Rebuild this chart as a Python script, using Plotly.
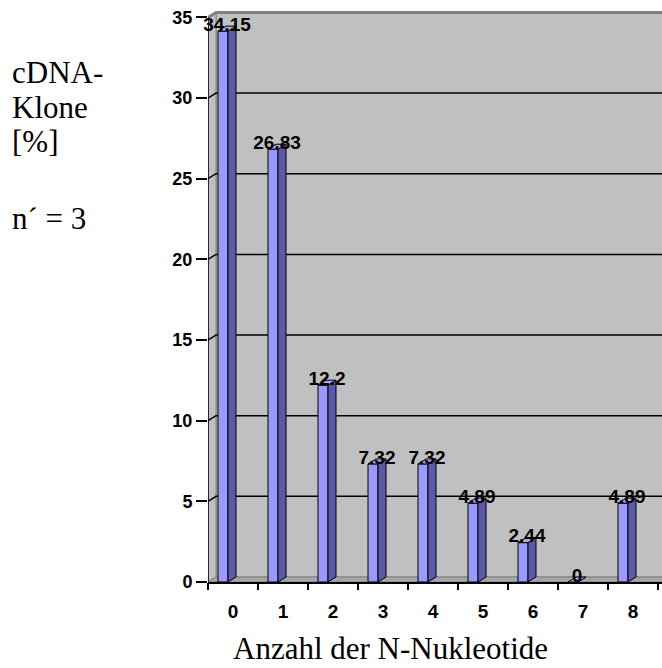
import plotly.graph_objects as go

# ---- data ----
categories = ["0", "1", "2", "3", "4", "5", "6", "7", "8"]
values = [34.15, 26.83, 12.2, 7.32, 7.32, 4.89, 2.44, 0, 4.89]
value_labels = ["34.15", "26.83", "12.2", "7.32", "7.32", "4.89", "2.44", "0", "4.89"]
y_ticks = [0, 5, 10, 15, 20, 25, 30, 35]
left_lines = ["cDNA-", "Klone", "[%]", "n´ = 3"]
x_title = "Anzahl der N-Nukleotide"

# ---- geometry (pseudo-3D, in data units) ----
W, H = 662, 668
ML, MT, MB = 208, 10, 86
PX_X = 50.0                      # pixels per category
X0 = -0.5
XMAX = X0 + (W - ML) / PX_X
PLOT_H = H - MT - MB
YTOP = 35.46
PX_Y = PLOT_H / YTOP
DX = 8 / PX_X                    # depth offset x
DY = 5 / PX_Y                    # depth offset y
BAR_OFF = 10 / PX_X
BAR_W = 10 / PX_X
BDX = 8 / PX_X
YMAX = max(y_ticks)
XEND = len(categories) - 0.5

fig = go.Figure()


def poly(xs, ys, fill, line_color="black", lw=1):
    fig.add_trace(go.Scatter(
        x=xs + [xs[0]], y=ys + [ys[0]], mode="lines", fill="toself",
        fillcolor=fill, line=dict(color=line_color, width=lw),
        hoverinfo="skip", showlegend=False))


def line(xs, ys, color="black", lw=1.5):
    fig.add_trace(go.Scatter(x=xs, y=ys, mode="lines",
                             line=dict(color=color, width=lw),
                             hoverinfo="skip", showlegend=False))


# back wall
poly([X0 + DX, XEND + DX + 1, XEND + DX + 1, X0 + DX],
     [DY, DY, YMAX + DY, YMAX + DY], "#C0C0C0", "#808080", 1)
# left wall
poly([X0, X0 + DX, X0 + DX, X0], [0, DY, YMAX + DY, YMAX], "#C0C0C0", "#808080", 1)
# floor
poly([X0, XEND + 1, XEND + 1 + DX, X0 + DX], [0, 0, DY, DY], "#A6A6A6", "#808080", 1)

# gridlines on side + back wall
for v in y_ticks[1:-1]:
    line([X0, X0 + DX, XEND + 1 + DX], [v, v + DY, v + DY], "black", 1.5)
# top edge of the walls
line([X0, X0 + DX, XEND + 1 + DX], [YMAX, YMAX + DY, YMAX + DY], "#808080", 3)

# bars
for i, v in enumerate(values):
    xl = i + X0 + BAR_OFF
    xr = xl + BAR_W
    poly([xl, xr, xr, xl], [0, 0, v, v], "#9999FF")
    poly([xr, xr + BDX, xr + BDX, xr], [0, DY, v + DY, v], "#5A5AA6")
    poly([xl, xr, xr + BDX, xl + BDX], [v, v, v + DY, v + DY], "#A8A8FF")

# value labels
fig.add_trace(go.Scatter(
    x=[i + X0 + BAR_OFF + (BAR_W + BDX) / 2 for i in range(len(values))],
    y=[v + DY for v in values], mode="text", text=value_labels,
    textposition="middle center",
    textfont=dict(family="Liberation Sans", size=19, color="black", weight="bold"),
    hoverinfo="skip", showlegend=False, cliponaxis=False))

# y axis line
line([X0, X0], [0, YMAX], "black", 1.5)

fig.update_layout(
    width=W, height=H,
    margin=dict(l=ML, r=0, t=MT, b=MB),
    paper_bgcolor="white", plot_bgcolor="white",
    showlegend=False,
    xaxis=dict(range=[X0, XMAX], tickmode="array",
               tickvals=list(range(len(categories))), ticktext=categories,
               ticks="outside", ticklen=11, tickcolor="rgba(0,0,0,0)",
               showgrid=False, zeroline=False, showline=True,
               linecolor="black", linewidth=1.5,
               tickfont=dict(family="Liberation Sans", size=19, color="black", weight="bold")),
    xaxis2=dict(range=[X0, XMAX], overlaying="x", side="bottom", tickmode="array",
                tickvals=[k + 0.5 for k in range(-1, len(categories))],
                showticklabels=False, ticks="outside", ticklen=7, tickwidth=1.5,
                tickcolor="black", showgrid=False, zeroline=False, showline=False),
    yaxis=dict(range=[0, YTOP], tickmode="array", tickvals=y_ticks,
               ticks="outside", ticklen=11, tickwidth=1.5, tickcolor="black",
               showgrid=False, zeroline=False, showline=False,
               tickfont=dict(family="Liberation Sans", size=18, color="black", weight="bold")),
)
# dummy trace for xaxis2 so ticks render
fig.add_trace(go.Scatter(x=[X0], y=[0], xaxis="x2", mode="markers",
                         marker=dict(opacity=0), hoverinfo="skip", showlegend=False))

left_y = [72, 107, 142, 218]
for txt, py in zip(left_lines, left_y):
    fig.add_annotation(text=txt, xref="paper", yref="paper",
                       x=(10 - ML) / (W - ML), y=(H - MB - py) / PLOT_H,
                       xanchor="left", yanchor="middle", showarrow=False,
                       font=dict(family="Liberation Serif", size=31, color="black"))

fig.add_annotation(text=x_title, xref="paper", yref="paper",
                   x=(390 - ML) / (W - ML), y=(H - MB - 648) / PLOT_H,
                   xanchor="center", yanchor="middle", showarrow=False,
                   font=dict(family="Liberation Serif", size=31, color="black"))

fig.write_html("out.html")
